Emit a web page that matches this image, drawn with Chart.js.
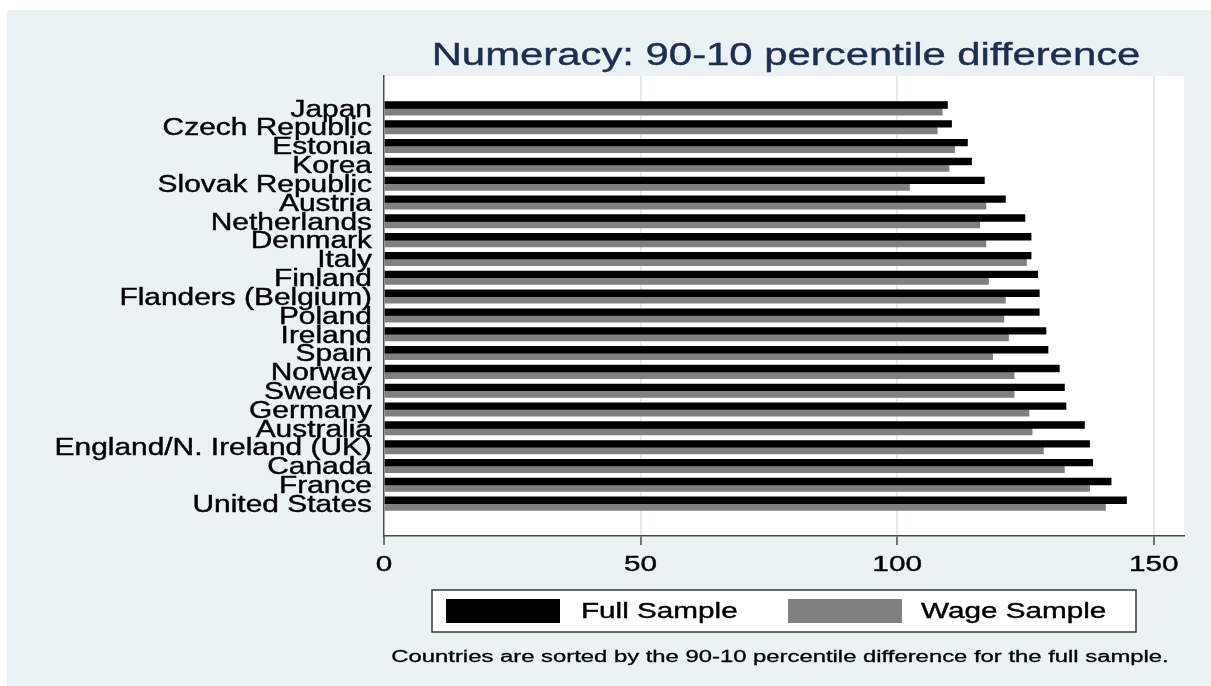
<!DOCTYPE html>
<html>
<head>
<meta charset="utf-8">
<script src="https://cdn.jsdelivr.net/npm/chart.js@4/dist/chart.umd.min.js"></script>
<style>
  body { margin: 0; background: #ffffff; }
  canvas { display: block; }
</style>
</head>
<body>
<canvas id="chart" width="1211" height="686"></canvas>
<script>
// data
const countries = ['Japan', 'Czech Republic', 'Estonia', 'Korea', 'Slovak Republic', 'Austria',
  'Netherlands', 'Denmark', 'Italy', 'Finland', 'Flanders (Belgium)', 'Poland', 'Ireland', 'Spain',
  'Norway', 'Sweden', 'Germany', 'Australia', 'England/N. Ireland (UK)', 'Canada', 'France', 'United States'];
const fullSample = [109.8, 110.6, 113.7, 114.5, 117.0, 121.1, 124.9, 126.1, 126.1, 127.4, 127.7,
  127.7, 129.0, 129.4, 131.6, 132.6, 132.9, 136.5, 137.5, 138.1, 141.7, 144.7];
const wageSample = [108.8, 107.8, 111.2, 110.1, 102.4, 117.3, 116.1, 117.3, 125.2, 117.8, 121.1,
  120.8, 121.7, 118.6, 122.8, 122.8, 125.7, 126.3, 128.5, 132.6, 137.5, 140.6];
const xTicks = [0, 50, 100, 150];
const seriesNames = ['Full Sample', 'Wage Sample'];

const FONT = '"Liberation Sans", Arial, sans-serif';

// the original text is stretched sideways, so draw it with a horizontal scale
function stretchText(ctx, text, x, y, size, sx, align, color, weight) {
  ctx.save();
  ctx.font = size + 'px ' + FONT;
  ctx.fillStyle = color;
  ctx.strokeStyle = color;
  ctx.lineWidth = weight || 0;
  ctx.textAlign = align;
  ctx.textBaseline = 'alphabetic';
  ctx.translate(x, y);
  ctx.scale(sx, 1);
  ctx.fillText(text, 0, 0);
  if (weight) ctx.strokeText(text, 0, 0);
  ctx.restore();
}

const backgroundPlugin = {
  id: 'background',
  beforeDraw(chart) {
    const ctx = chart.ctx;
    const a = chart.chartArea;
    ctx.save();
    ctx.fillStyle = '#ffffff';
    ctx.fillRect(0, 0, chart.width, chart.height);
    ctx.fillStyle = '#eaf2f3';
    ctx.fillRect(7, 10, chart.width - 7, chart.height - 10);
    ctx.fillStyle = '#ffffff';
    ctx.fillRect(a.left, a.top, a.right - a.left, a.bottom - a.top);
    ctx.restore();
  }
};

const textPlugin = {
  id: 'texts',
  afterDraw(chart) {
    const ctx = chart.ctx;
    const a = chart.chartArea;
    const y = chart.scales.y;
    const x = chart.scales.x;

    // title
    stretchText(ctx, 'Numeracy: 90-10 percentile difference', (a.left + a.right) / 2 + 2, 65, 31, 1.35, 'center', '#1e2d52', 0.4);

    // country labels
    countries.forEach((c, i) => {
      stretchText(ctx, c, 372, y.getPixelForValue(i) + 8.3, 23, 1.3, 'right', '#000000', 0.4);
    });

    // x tick labels
    x.ticks.forEach(t => {
      stretchText(ctx, String(t.value), x.getPixelForValue(t.value), 571, 22.5, 1.32, 'center', '#000000', 0.4);
    });

    // legend box
    ctx.save();
    ctx.fillStyle = '#ffffff';
    ctx.fillRect(432, 590, 704, 42);
    ctx.strokeStyle = '#3a3a3a';
    ctx.lineWidth = 1.5;
    ctx.strokeRect(432, 590, 704, 42);
    const ds = chart.data.datasets;
    ctx.fillStyle = ds[0].backgroundColor;
    ctx.fillRect(446, 599, 114, 24);
    ctx.fillStyle = ds[1].backgroundColor;
    ctx.fillRect(788, 599, 114, 24);
    ctx.restore();
    stretchText(ctx, ds[0].label, 581, 618, 21.5, 1.38, 'left', '#000000', 0.4);
    stretchText(ctx, ds[1].label, 921, 618, 21.5, 1.38, 'left', '#000000', 0.4);

    // note under the legend
    stretchText(ctx, 'Countries are sorted by the 90-10 percentile difference for the full sample.',
      780, 662, 16, 1.49, 'center', '#000000', 0.3);
  }
};

const ctx = document.getElementById('chart').getContext('2d');
const chart = new Chart(ctx, {
  type: 'bar',
  data: {
    datasets: [{
      label: seriesNames[0],
      data: fullSample.map((v, i) => ({ x: v, y: i })),
      backgroundColor: '#000000'
    }, {
      label: seriesNames[1],
      data: wageSample.map((v, i) => ({ x: v, y: i })),
      backgroundColor: '#808080'
    }]
  },
  options: {
    indexAxis: 'y',
    responsive: false,
    animation: false,
    barThickness: 6.7,
    layout: { padding: { top: 76, right: 27, left: 0, bottom: 0 } },
    plugins: {
      legend: { display: false },
      title: { display: false },
      tooltip: { enabled: false }
    },
    scales: {
      x: {
        type: 'linear',
        min: 0,
        max: 155.9,
        afterBuildTicks: s => { s.ticks = xTicks.map(v => ({ value: v })); },
        ticks: { display: false },
        grid: {
          color: c => (c.tick && c.tick.value === 0) ? 'rgba(0,0,0,0)' : '#e2ecee',
          lineWidth: 2,
          drawTicks: true,
          tickLength: 9,
          tickColor: '#4a4a4a',
          tickWidth: 1.5
        },
        border: { display: true, color: '#4a4a4a', width: 1.5 },
        afterFit: s => { s.height = 150; }
      },
      y: {
        type: 'linear',
        reverse: true,
        offset: false,
        min: -1.72,
        max: 22.72,
        ticks: { display: false, stepSize: 1, includeBounds: false },
        grid: { display: false, offset: false },
        border: { display: true, color: '#4a4a4a', width: 1.5 },
        afterFit: s => { s.width = 384; }
      }
    }
  },
  plugins: [backgroundPlugin, textPlugin]
});
</script>
</body>
</html>
